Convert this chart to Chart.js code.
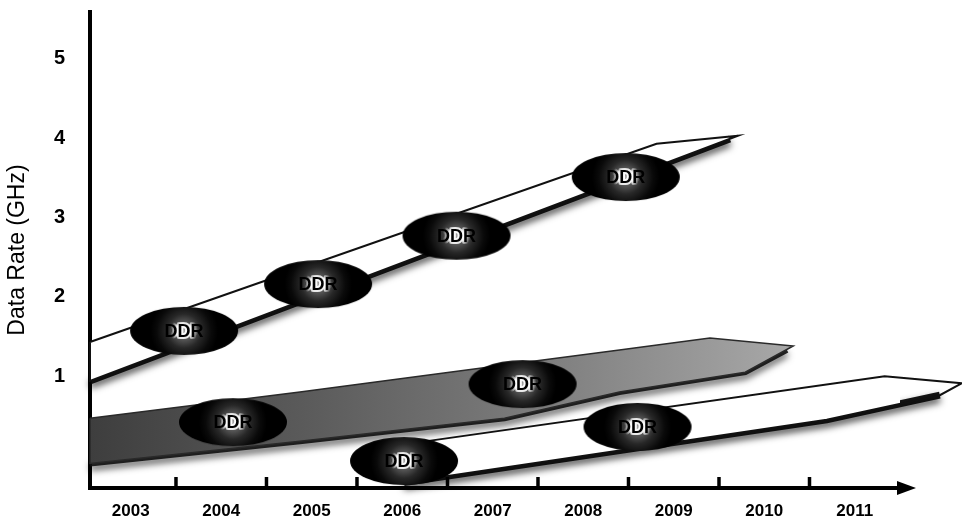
<!DOCTYPE html>
<html><head><meta charset="utf-8">
<script src="https://cdn.jsdelivr.net/npm/chart.js@4.4.1/dist/chart.umd.min.js"></script>
<style>html,body{margin:0;padding:0;background:#fff;}canvas{display:block;}</style>
</head><body>
<canvas id="c" width="962" height="526"></canvas>
<script>
// ---- data (years on x, GHz on y) ----
const years = [2003, 2004, 2005, 2006, 2007, 2008, 2009, 2010, 2011];
const yearDividers = [2003.5, 2004.5, 2005.5, 2006.5, 2007.5, 2008.5, 2009.5, 2010.5];
const rateTicks = [1, 2, 3, 4, 5];
const xRange = [2002.55, 2011.5];
const yRange = [-0.41, 5.59];

const upperBandYears = [2002.55, 2008.81, 2009.71, 2002.55, 2002.55];
const upperBandRates = [1.43, 3.93, 4.03, 0.94, 1.43];
const upperEdgeYears = [2002.55, 2009.62];
const upperEdgeRates = [0.94, 3.99];

const middleBandYears = [2002.55, 2004.87, 2007.13, 2008.40, 2009.40, 2010.32, 2009.79, 2008.40, 2007.13, 2004.87, 2002.55, 2002.55];
const middleBandRates = [0.47, 0.80, 1.14, 1.33, 1.48, 1.38, 1.05, 0.80, 0.47, 0.18, -0.10, 0.47];
const middleEdgeYears = [2002.55, 2004.87, 2007.13, 2008.40, 2009.79, 2010.25];
const middleEdgeRates = [-0.10, 0.18, 0.47, 0.80, 1.05, 1.33];

const lowerBandYears = [2006.02, 2011.33, 2012.18, 2011.94, 2010.69, 2006.02, 2006.02];
const lowerBandRates = [0.14, 1.00, 0.91, 0.76, 0.45, -0.34, 0.14];
const lowerEdgeYears = [2006.02, 2010.69, 2011.94, 2012.12];
const lowerEdgeRates = [-0.34, 0.45, 0.76, 0.88];

const badgeYears = [2003.59, 2005.07, 2006.60, 2008.47, 2004.13, 2007.33, 2006.02, 2008.60];
const badgeRates = [1.57, 2.16, 2.77, 3.51, 0.42, 0.90, -0.07, 0.36];
const badgeLabels = ['DDR', 'DDR', 'DDR', 'DDR', 'DDR', 'DDR', 'DDR', 'DDR'];

// ---- helpers ----
const FONT = '"Liberation Sans", Arial, Helvetica, sans-serif';
const pts = (xs, ys) => xs.map((x, i) => ({ x: x, y: ys[i] }));

function makeBadge(rx, ry) {
  const c = document.createElement('canvas');
  c.width = rx * 2 + 2; c.height = ry * 2 + 2;
  const g = c.getContext('2d');
  const cx = c.width / 2, cy = c.height / 2;
  const grad = g.createRadialGradient(cx, cy, 0, cx, cy, 34);
  grad.addColorStop(0, '#a8a8a8');
  grad.addColorStop(0.22, '#5c5c5c');
  grad.addColorStop(0.5, '#282828');
  grad.addColorStop(0.8, '#0a0a0a');
  grad.addColorStop(1, '#000');
  g.fillStyle = grad;
  g.beginPath(); g.ellipse(cx, cy, rx, ry, 0, 0, Math.PI * 2); g.fill();
  return c;
}
const badgeImg = makeBadge(54, 24);
const BADGE_INDEX = 6;

const badgeText = {
  id: 'badgeText',
  afterDatasetsDraw(chart) {
    const meta = chart.getDatasetMeta(BADGE_INDEX);
    const ctx = chart.ctx;
    ctx.save();
    ctx.font = 'bold 18px ' + FONT;
    ctx.textAlign = 'center';
    ctx.textBaseline = 'middle';
    ctx.lineJoin = 'round';
    meta.data.forEach((p, i) => {
      const halo = ctx.createRadialGradient(p.x, p.y, 0, p.x, p.y, 14);
      halo.addColorStop(0, 'rgba(255,255,255,1)');
      halo.addColorStop(0.6, 'rgba(255,255,255,0.85)');
      halo.addColorStop(1, 'rgba(255,255,255,0)');
      ctx.lineWidth = 4;
      ctx.strokeStyle = halo;
      ctx.strokeText(badgeLabels[i], p.x, p.y + 1);
      ctx.fillStyle = '#000';
      ctx.fillText(badgeLabels[i], p.x, p.y + 1);
    });
    ctx.restore();
  }
};

const axisDecor = {
  id: 'axisDecor',
  afterDraw(chart) {
    const ctx = chart.ctx, xs = chart.scales.x, a = chart.chartArea;
    ctx.save();
    ctx.strokeStyle = '#000';
    ctx.lineWidth = 3.5;
    yearDividers.forEach(v => {
      const x = xs.getPixelForValue(v);
      ctx.beginPath(); ctx.moveTo(x, a.bottom); ctx.lineTo(x, a.bottom - 11); ctx.stroke();
    });
    ctx.fillStyle = '#000';
    ctx.beginPath();
    ctx.moveTo(a.right - 3, a.bottom - 7);
    ctx.lineTo(a.right + 16, a.bottom);
    ctx.lineTo(a.right - 3, a.bottom + 7);
    ctx.closePath(); ctx.fill();
    ctx.restore();
  }
};

const edgeShadow = {
  id: 'edgeShadow',
  beforeDatasetDraw(chart, args) {
    if (!chart.data.datasets[args.index].castShadow) return;
    const ctx = chart.ctx;
    ctx.save();
    ctx.shadowColor = 'rgba(0,0,0,0.75)';
    ctx.shadowBlur = 7;
    ctx.shadowOffsetY = 4;
  },
  afterDatasetDraw(chart, args) {
    if (chart.data.datasets[args.index].castShadow) chart.ctx.restore();
  }
};

function middleFill(c) {
  const ch = c.chart;
  if (!ch.chartArea || !ch.scales.x) return '#777';
  const x0 = ch.scales.x.getPixelForValue(xRange[0]);
  const x1 = ch.scales.x.getPixelForValue(2010.3);
  const g = ch.ctx.createLinearGradient(x0, 0, x1, 0);
  g.addColorStop(0, '#3e3e3e');
  g.addColorStop(0.3, '#5a5a5a');
  g.addColorStop(0.65, '#7e7e7e');
  g.addColorStop(1, '#a8a8a8');
  return g;
}

new Chart(document.getElementById('c'), {
  type: 'line',
  data: {
    datasets: [
      { data: pts(upperEdgeYears, upperEdgeRates), castShadow: true, borderColor: 'rgba(8,8,8,0.95)', borderWidth: 7, pointRadius: 0, fill: false, clip: false, order: 9 },
      { data: pts(middleEdgeYears, middleEdgeRates), castShadow: true, borderColor: 'rgba(15,15,15,0.9)', borderWidth: 6, pointRadius: 0, fill: false, clip: false, order: 9 },
      { data: pts(lowerEdgeYears, lowerEdgeRates), castShadow: true, borderColor: 'rgba(8,8,8,0.95)', borderWidth: 7, pointRadius: 0, fill: false, clip: false, order: 9 },
      { data: pts(upperBandYears, upperBandRates), showLine: true, fill: 'shape', backgroundColor: '#fff', borderColor: '#111', borderWidth: 2, pointRadius: 0, tension: 0, clip: false, order: 5 },
      { data: pts(middleBandYears, middleBandRates), showLine: true, fill: 'shape', backgroundColor: middleFill, borderColor: '#2a2a2a', borderWidth: 1.5, pointRadius: 0, tension: 0, clip: false, order: 5 },
      { data: pts(lowerBandYears, lowerBandRates), showLine: true, fill: 'shape', backgroundColor: '#fff', borderColor: '#111', borderWidth: 2, pointRadius: 0, tension: 0, clip: false, order: 5 },
      { data: pts(badgeYears, badgeRates), showLine: false, pointStyle: badgeImg, pointRadius: 10, pointHoverRadius: 10, clip: false, order: 0 }
    ]
  },
  options: {
    responsive: false,
    animation: false,
    events: [],
    layout: { padding: { top: 12, right: 62, left: 0, bottom: 0 } },
    plugins: { legend: { display: false }, tooltip: { enabled: false } },
    scales: {
      x: {
        type: 'linear', min: xRange[0], max: xRange[1],
        afterBuildTicks(s) { s.ticks = years.map(v => ({ value: v })); },
        afterFit(s) { s.height = 38; s.paddingLeft = 0; s.paddingRight = 0; },
        grid: { display: false, drawTicks: false },
        border: { display: true, color: '#000', width: 4 },
        ticks: { padding: 13, color: '#000', autoSkip: false, maxRotation: 0,
          font: { family: FONT, size: 17, weight: 'bold' }, callback: v => String(v) }
      },
      y: {
        type: 'linear', min: yRange[0], max: yRange[1],
        afterBuildTicks(s) { s.ticks = rateTicks.map(v => ({ value: v })); },
        afterFit(s) { s.width = 90; s.paddingTop = 0; s.paddingBottom = 0; },
        grid: { display: false, drawTicks: false },
        border: { display: true, color: '#000', width: 4 },
        ticks: { padding: 25, color: '#000', font: { family: FONT, size: 20, weight: 'bold' }, callback: v => String(v) },
        title: { display: true, text: 'Data Rate (GHz)', color: '#000', font: { family: FONT, size: 23 }, padding: { top: 4, bottom: 0 } }
      }
    }
  },
  plugins: [edgeShadow, badgeText, axisDecor]
});
</script>
</body></html>
